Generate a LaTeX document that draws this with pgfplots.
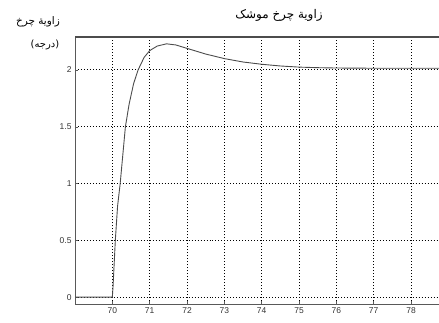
\documentclass[border=0pt]{standalone}
\usepackage{pgfplots}
\pgfplotsset{compat=1.18}
\usepackage{fontspec}
\setmainfont{Liberation Sans}
\newfontfamily\arabicfont[Script=Arabic]{DejaVu Sans}
\TeXXeTstate=1
\begin{document}
\begin{tikzpicture}[x=1bp,y=1bp]
\path[use as bounding box] (0,0) rectangle (439,322);
\begin{axis}[
  at={(75bp,18bp)}, anchor=south west,
  scale only axis, width=364bp, height=267bp,
  xmin=69, xmax=78.75, ymin=-0.06, ymax=2.29,
  xtick={70,71,...,78}, ytick={0,0.5,1,1.5,2},
  yticklabels={0,0.5,1,1.5,2},
  grid=major,
  major grid style={black, line width=1pt, dash pattern=on 1pt off 2pt},
  axis line style={gray!70!black, line width=0.9pt},
  tick style={gray!70!black, line width=0.5pt},
  major tick length=3pt,
  tick align=inside,
  xtick pos=bottom, ytick pos=left,
  axis x line*=bottom, axis y line*=left,
  ticklabel style={font=\fontsize{8.5}{9}\selectfont, text=black!80},
  /pgf/number format/assume math mode=true,
  clip=false,
]
\draw[gray!60!black, line width=1.2pt] (rel axis cs:0,1) -- (rel axis cs:1,1);
\addplot[gray!60!black, line width=0.9pt] coordinates {
(69,0) (70,0) (70.02,0.1) (70.08,0.5) (70.14,0.8) (70.21,1.0) (70.28,1.25) (70.35,1.5)
(70.45,1.7) (70.57,1.88) (70.69,2.0) (70.85,2.11) (71,2.17) (71.2,2.21) (71.45,2.23)
(71.7,2.22) (72,2.19) (72.5,2.14) (73,2.1) (73.5,2.07) (74,2.05) (74.5,2.035)
(75,2.025) (75.5,2.02) (76,2.017) (77,2.015) (78,2.015) (78.75,2.015)
};
\end{axis}
\node[font=\arabicfont\fontsize{12}{13}\selectfont] at (279,307) {\beginR زاویة چرخ موشک\endR};
\node[font=\arabicfont\fontsize{10.5}{11}\selectfont] at (38,300) {\beginR زاویة چرخ\endR};
\node[font=\arabicfont\fontsize{10}{11}\selectfont] at (45,277) {\beginR (درجه)\endR};
\end{tikzpicture}
\end{document}
